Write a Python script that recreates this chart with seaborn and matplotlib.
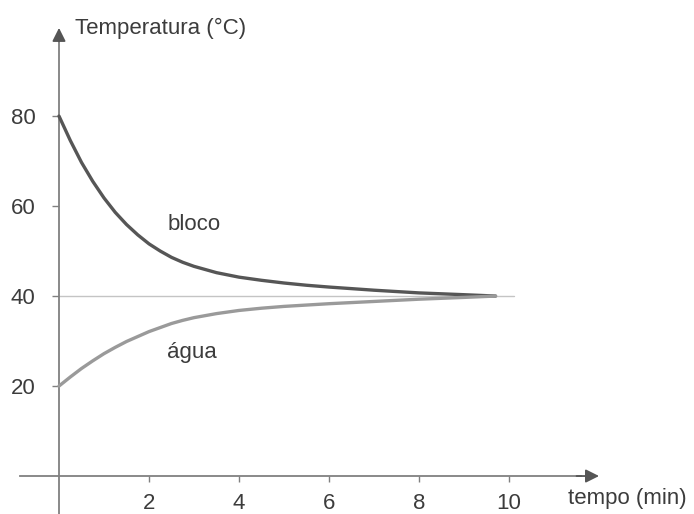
import numpy as np
import pandas as pd
import matplotlib
matplotlib.use("Agg")
import matplotlib.pyplot as plt
import seaborn as sns

# values
tempo = [0, 0.25, 0.5, 0.75, 1, 1.25, 1.5, 1.75, 2, 2.25, 2.5, 2.75, 3,
         3.5, 4, 4.5, 5, 5.5, 6, 7, 8, 9, 9.7]
bloco = [80, 74.6, 69.7, 65.5, 61.8, 58.6, 55.9, 53.6, 51.6, 50.0, 48.6, 47.5, 46.6,
         45.2, 44.2, 43.5, 42.9, 42.4, 42.0, 41.3, 40.7, 40.3, 40]
agua = [20, 22.0, 23.9, 25.6, 27.2, 28.6, 29.9, 31.0, 32.1, 33.0, 33.9, 34.6, 35.2,
        36.1, 36.8, 37.3, 37.7, 38.0, 38.3, 38.8, 39.3, 39.7, 40]
equilibrio = 40
x_ticks = [2, 4, 6, 8, 10]
y_ticks = [20, 40, 60, 80]

df = pd.concat([
    pd.DataFrame({"tempo": tempo, "temp": bloco, "serie": "bloco"}),
    pd.DataFrame({"tempo": tempo, "temp": agua, "serie": "água"}),
])

sns.set_style("white")
plt.rcParams["font.family"] = ["Liberation Sans", "DejaVu Sans"]

text_c = "#3c3c3c"
axis_c = "#808080"

fig = plt.figure(figsize=(6.94, 5.14), dpi=100)
ax = fig.add_axes([0, 0, 1, 1])

# linha de equilibrio
ax.plot([0, 10.1], [equilibrio, equilibrio], color="#c4c4c4", lw=1.0, zorder=1)

sns.lineplot(data=df, x="tempo", y="temp", hue="serie",
             palette={"bloco": "#565656", "água": "#9a9a9a"},
             linewidth=2.4, legend=False, ax=ax, zorder=3,
             solid_joinstyle="round", solid_capstyle="round")

ax.set_xlim(-1.311, 14.11)
ax.set_ylim(-8.44, 105.8)

for s in ["top", "right"]:
    ax.spines[s].set_visible(False)
ax.spines["bottom"].set_position(("data", 0))
ax.spines["left"].set_position(("data", 0))
ax.spines["bottom"].set_bounds(-0.87, 11.6)
ax.spines["left"].set_bounds(-8.44, 99)
for s in ["bottom", "left"]:
    ax.spines[s].set_color(axis_c)
    ax.spines[s].set_linewidth(1.3)

# setas dos eixos
ax.annotate("", xy=(12.0, 0), xytext=(11.5, 0),
            arrowprops=dict(arrowstyle="-|>", color="#555555", lw=1.3,
                            mutation_scale=20, shrinkA=0, shrinkB=0))
ax.annotate("", xy=(0, 99.6), xytext=(0, 96.6),
            arrowprops=dict(arrowstyle="-|>", color="#555555", lw=1.3,
                            mutation_scale=20, shrinkA=0, shrinkB=0))

ax.set_xticks(x_ticks)
ax.set_yticks(y_ticks)
ax.set_xticklabels([str(v) for v in x_ticks])
ax.set_yticklabels([str(v) for v in y_ticks])
ax.tick_params(axis="x", direction="out", length=4.5, width=1, color=axis_c,
               pad=8, labelsize=16, labelcolor=text_c, bottom=True)
ax.tick_params(axis="y", direction="out", length=5, width=1, color=axis_c,
               pad=12, labelsize=16, labelcolor=text_c, left=True)
ax.set_xlabel("")
ax.set_ylabel("")

ax.text(0.36, 98.2, "Temperatura (°C)", fontsize=16, color=text_c, va="baseline")
ax.text(11.31, -6.3, "tempo (min)", fontsize=16, color=text_c, va="baseline")
ax.text(3.0, 56, "bloco", fontsize=16, color=text_c, ha="center", va="center")
ax.text(2.96, 27.5, "água", fontsize=16, color=text_c, ha="center", va="center")

fig.savefig("out.png", dpi=100)
